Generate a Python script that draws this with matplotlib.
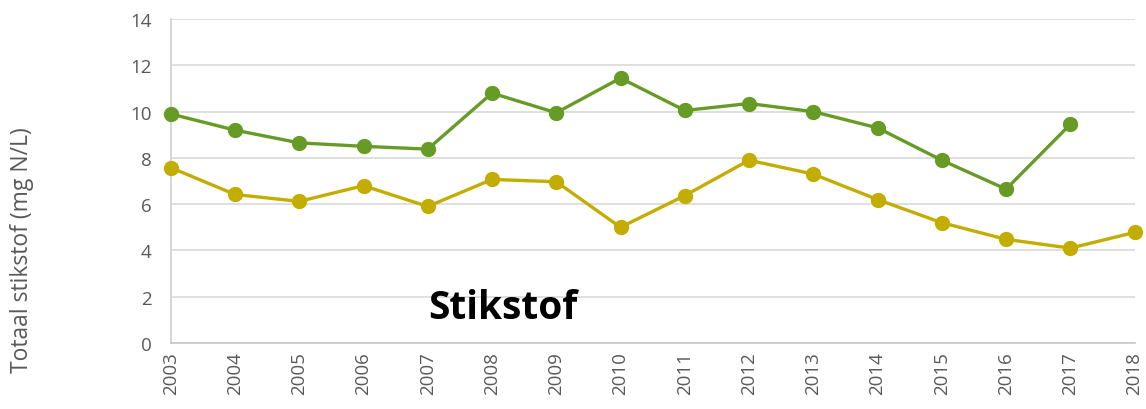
import matplotlib.pyplot as plt

# years and yearly averages
years = list(range(2003, 2019))
green_vals = [9.9, 9.2, 8.65, 8.5, 8.38, 10.8, 9.95, 11.45, 10.05, 10.35, 10.0, 9.3, 7.9, 6.65, 9.45]
yellow_vals = [7.58, 6.42, 6.12, 6.8, 5.9, 7.07, 6.97, 5.0, 6.37, 7.9, 7.3, 6.2, 5.2, 4.48, 4.1, 4.78]
y_ticks = [0, 2, 4, 6, 8, 10, 12, 14]

plt.rcParams['font.family'] = ['Open Sans', 'DejaVu Sans']

fig = plt.figure(figsize=(11.46, 4.10), dpi=100)
ax = fig.add_axes([0.149, 0.161, 0.841, 0.790])

green = '#669b25'
yellow = '#c2ad00'
ax.plot(years[:len(green_vals)], green_vals, color=green, lw=2.4, marker='o', ms=10, clip_on=False, zorder=3)
ax.plot(years, yellow_vals, color=yellow, lw=2.4, marker='o', ms=10, clip_on=False, zorder=3)

ax.set_xlim(2003, 2018)
ax.set_ylim(0, 14)
ax.set_yticks(y_ticks)
ax.set_xticks(years)
ax.set_xticklabels([str(y) for y in years], rotation=90)
ax.tick_params(axis='both', length=0, labelsize=13.5, colors='#595959')
ax.tick_params(axis='y', pad=14)
ax.tick_params(axis='x', pad=6)

ax.grid(axis='y', color='#d9d9d9', lw=1.2)
ax.set_axisbelow(True)
for s in ['top', 'right']:
    ax.spines[s].set_visible(False)
ax.spines['left'].set_color('#d0d0d0')
ax.spines['bottom'].set_color('#c8c8c8')
ax.spines['left'].set_linewidth(1.2)
ax.spines['bottom'].set_linewidth(1.2)

ax.set_ylabel('Totaal stikstof (mg N/L)', fontsize=16.5, color='#595959')
ax.yaxis.set_label_coords(-0.142, 0.29)

ax.text(2007.0, 1.55, 'Stikstof', fontsize=28, fontweight='bold', color='black', va='center', ha='left')

fig.savefig('out.png', dpi=100)
